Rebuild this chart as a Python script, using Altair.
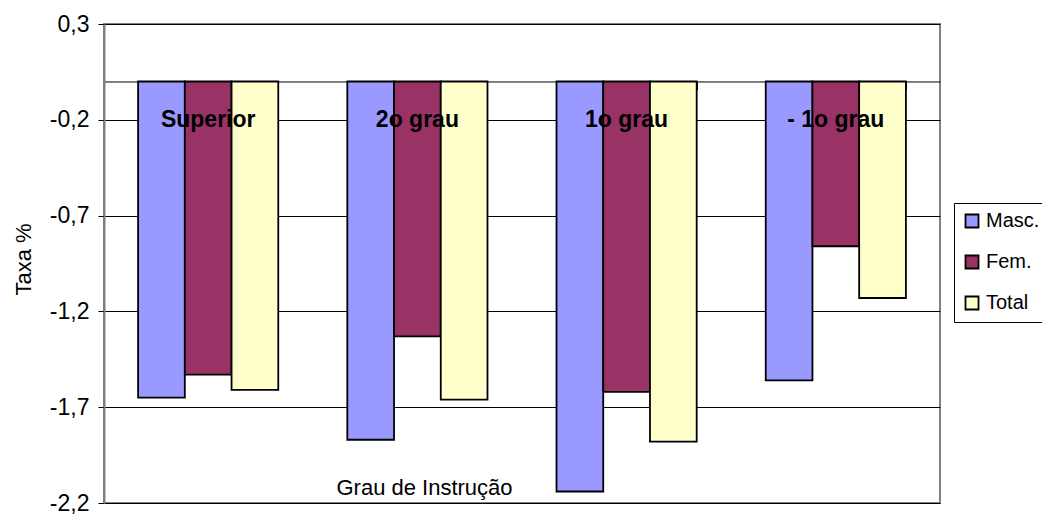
import altair as alt
import pandas as pd

categories = ["Superior", "2o grau", "1o grau", "- 1o grau"]
series_names = ["Masc.", "Fem.", "Total"]
masc = [-1.65, -1.87, -2.14, -1.56]
fem = [-1.53, -1.33, -1.62, -0.86]
total = [-1.61, -1.66, -1.88, -1.13]
colors = ["#9999FF", "#993366", "#FFFFCC"]
y_ticks = [0.3, -0.2, -0.7, -1.2, -1.7, -2.2]

rows = []
for i, c in enumerate(categories):
    for s, vals in zip(series_names, [masc, fem, total]):
        rows.append({"grau": c, "serie": s, "taxa": vals[i]})
df = pd.DataFrame(rows)
cat_df = pd.DataFrame({"grau": categories})

W, H = 836, 479
PAD_TOP = 16
y_min, y_max = -2.2, 0.3
zero_px = (y_max - 0) / (y_max - y_min) * H

x_enc = alt.X(
    "grau:N",
    sort=categories,
    scale=alt.Scale(paddingInner=0.33, paddingOuter=0.163),
    axis=alt.Axis(
        orient="bottom",
        offset=zero_px - H,
        labels=False,
        tickBand="extent",
        tickSize=8,
        tickColor="black",
        domainColor="black",
        domainWidth=1,
        title="Grau de Instrução",
        titleFontSize=22,
        titleFontWeight="normal",
        titleColor="black",
        titleX=320,
        titleY=487 - (8 + PAD_TOP + zero_px),
        titleAlign="center",
        titleBaseline="middle",
        grid=False,
    ),
)

y_scale = alt.Scale(domain=[y_min, y_max], nice=False, zero=False)

bars = alt.Chart(df).mark_bar(stroke="black", strokeWidth=1.8).encode(
    x=x_enc,
    xOffset=alt.XOffset("serie:N", sort=series_names, scale=alt.Scale(paddingInner=0, paddingOuter=0)),
    y=alt.Y(
        "taxa:Q",
        scale=y_scale,
        axis=alt.Axis(
            values=y_ticks,
            labelExpr="replace(replace(format(datum.value, '.1f'), '\u2212', '-'), '.', ',')",
            labelFontSize=23,
            labelColor="black",
            labelPadding=9,
            tickSize=6,
            tickColor="black",
            domainColor="#808080",
            domainWidth=2,
            grid=True,
            gridColor="black",
            gridWidth=1,
            title="Taxa %",
            titleFontSize=22,
            titleFontWeight="normal",
            titleColor="black",
            titleX=-81,
            titleY=259 - (8 + PAD_TOP),
            titleAngle=-90,
            titleAlign="center",
            titleBaseline="middle",
        ),
    ),
    y2=alt.datum(0),
    color=alt.Color(
        "serie:N",
        sort=series_names,
        scale=alt.Scale(domain=series_names, range=colors),
        legend=alt.Legend(
            title=None,
            orient="none",
            legendX=850,
            legendY=203 - (8 + PAD_TOP),
            symbolType="square",
            symbolSize=169,
            symbolStrokeColor="black",
            symbolStrokeWidth=1.8,
            symbolOpacity=1,
            labelFontSize=20,
            labelColor="black",
            labelOffset=4,
            rowPadding=19,
            strokeColor="black",
            padding=8,
        ),
    ),
)

labels = alt.Chart(cat_df).mark_text(
    fontWeight="bold", fontSize=23, color="black", baseline="middle", align="center"
).encode(
    x=alt.X("grau:N", sort=categories),
    y=alt.datum(-0.2),
    text="grau:N",
)

chart = alt.layer(bars, labels).properties(
    width=W,
    height=H,
    autosize=alt.AutoSizeParams(type="none"),
    padding={"left": 96, "top": PAD_TOP, "right": 102, "bottom": 11},
).configure(
    font="Liberation Sans",
).configure_view(
    stroke="#808080",
    strokeWidth=2,
)

chart.save("out.html", embed_options={"renderer": "svg", "actions": False})
